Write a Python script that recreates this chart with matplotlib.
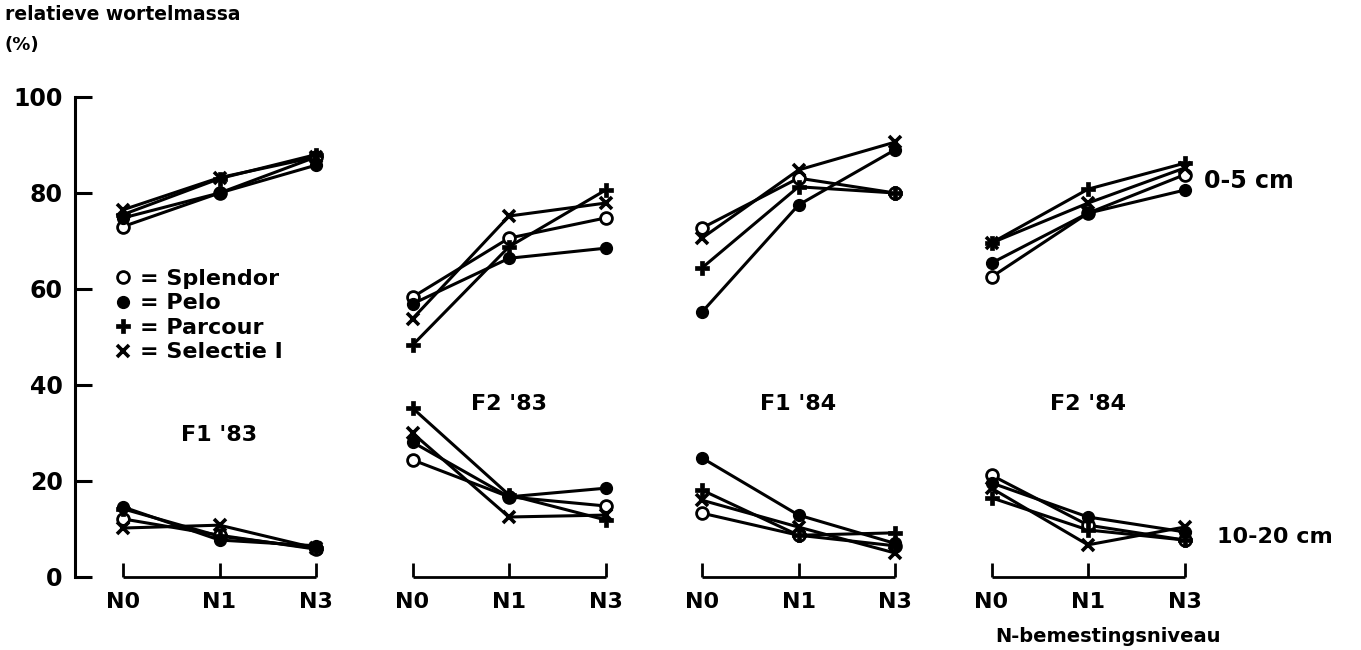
import matplotlib
matplotlib.use("Agg")
import matplotlib.pyplot as plt
from matplotlib.lines import Line2D

# ---------------- data ----------------
levels = ["N0", "N1", "N3"]
panels = ["F1 '83", "F2 '83", "F1 '84", "F2 '84"]
varieties = ["Splendor", "Pelo", "Parcour", "Selectie I"]

# 0-5 cm layer, per variety: one list of 3 values per panel
top_splendor = [[73.0, 80.0, 87.5], [58.3, 70.6, 74.8], [72.7, 83.1, 80.0], [62.5, 75.8, 83.8]]
top_pelo     = [[74.8, 80.0, 85.8], [56.9, 66.4, 68.5], [55.2, 77.5, 89.0], [65.4, 75.8, 80.6]]
top_parcour  = [[75.5, 83.0, 88.0], [48.3, 68.8, 80.6], [64.4, 81.3, 80.0], [69.6, 80.8, 86.2]]
top_selectie = [[76.5, 83.2, 87.5], [53.8, 75.2, 77.9], [70.6, 84.8, 90.6], [69.6, 77.9, 85.2]]

# 10-20 cm layer
bot_splendor = [[12.1, 8.7, 5.8], [24.4, 16.7, 14.8], [13.3, 8.7, 6.5], [21.2, 10.8, 7.7]]
bot_pelo     = [[14.6, 7.7, 6.5], [28.1, 16.7, 18.5], [24.8, 12.9, 7.0], [19.6, 12.5, 9.4]]
bot_parcour  = [[14.2, 8.5, 6.0], [35.2, 17.1, 11.9], [18.1, 8.7, 9.2], [16.5, 9.8, 7.7]]
bot_selectie = [[10.2, 10.8, 6.0], [30.0, 12.5, 12.9], [16.0, 10.4, 5.0], [18.5, 6.7, 10.4]]

yticks = [0, 20, 40, 60, 80, 100]

# ---------------- styling ----------------
FONT = "DejaVu Sans"
plt.rcParams["font.family"] = [FONT]
plt.rcParams["font.weight"] = "bold"

W, H = 1361, 650
fig = plt.figure(figsize=(W / 100, H / 100), dpi=100)

ax_left_px, ax_right_px = 75, 1361
y0_px, y100_px = 577, 97
ax = fig.add_axes([ax_left_px / W, (H - y0_px) / H,
                   (ax_right_px - ax_left_px) / W, (y0_px - y100_px) / H])

step_px = 96.5
first_px = 123
ax.set_xlim((ax_left_px - first_px) / step_px, (ax_right_px - first_px) / step_px)
ax.set_ylim(0, 100)

for s in ["top", "right", "bottom"]:
    ax.spines[s].set_visible(False)
ax.spines["left"].set_linewidth(2.2)
ax.set_xticks([])
ax.set_yticks(yticks)
ax.set_yticklabels([str(t) for t in yticks])
ax.tick_params(axis="y", direction="in", length=12, width=2.2, pad=9,
               labelsize=17)
for lab in ax.get_yticklabels():
    lab.set_fontweight("bold")

styles = {
    "Splendor":   dict(marker="o", ms=8.5, mfc="white", mec="black", mew=2.0),
    "Pelo":       dict(marker="o", ms=8.5, mfc="black", mec="black", mew=1.0),
    "Parcour":    dict(marker="P", ms=9.5, mfc="black", mec="black", mew=0.5),
    "Selectie I": dict(marker="x", ms=8, mfc="black", mec="black", mew=2.6),
}
layer_data = {
    "top": [top_splendor, top_pelo, top_parcour, top_selectie],
    "bot": [bot_splendor, bot_pelo, bot_parcour, bot_selectie],
}

lw = 2.2
for p in range(len(panels)):
    xs = [3 * p + j for j in range(len(levels))]
    for key in ("top", "bot"):
        for vi, var in enumerate(varieties):
            ys = layer_data[key][vi][p]
            ax.plot(xs, ys, color="black", lw=lw, clip_on=False,
                    solid_capstyle="butt", zorder=2)
            ax.plot(xs, ys, ls="none", clip_on=False, zorder=3, **styles[var])
    # bracket x-axis under each panel
    ax.plot([xs[0], xs[-1]], [0, 0], color="black", lw=2.0, clip_on=False,
            solid_capstyle="butt")
    ax.vlines(xs, 0, 3, color="black", lw=2.0, clip_on=False)
    for x, lv in zip(xs, levels):
        ax.text(x, -5.3, lv, ha="center", va="center", fontsize=16,
                fontweight="bold", clip_on=False)

# panel labels
panel_label_pos = [(1.0, 29.5), (4.0, 36.0), (7.0, 36.0), (10.0, 36.0)]
for lbl, (x, y) in zip(panels, panel_label_pos):
    ax.text(x, y, lbl, ha="center", va="center", fontsize=16, fontweight="bold")

# layer labels
ax.text(11.2, 82.5, "0-5 cm", ha="left", va="center", fontsize=17,
        fontweight="bold", clip_on=False)
fig.text(1217 / W, 1 - 537 / H, "10-20 cm", ha="left", va="center",
         fontsize=16, fontweight="bold")

# axis titles
fig.text(5 / W, 1 - 15 / H, "relatieve wortelmassa", ha="left", va="center",
         fontsize=13.5, fontweight="bold")
fig.text(5 / W, 1 - 45 / H, "(%)", ha="left", va="center",
         fontsize=13, fontweight="bold")
fig.text(1108 / W, 1 - 636 / H, "N-bemestingsniveau", ha="center", va="center",
         fontsize=14, fontweight="bold")

# legend
handles = [Line2D([], [], ls="none", **styles[v]) for v in varieties]
leg = fig.legend(handles, ["= " + v for v in varieties], loc="upper left",
                 bbox_to_anchor=(114 / W, 1 - 269 / H), frameon=False,
                 handlelength=0.8, handletextpad=0.35, labelspacing=0.2,
                 borderpad=0, borderaxespad=0,
                 prop=dict(family=FONT, weight="bold", size=16))

fig.savefig("out.png", dpi=100)
